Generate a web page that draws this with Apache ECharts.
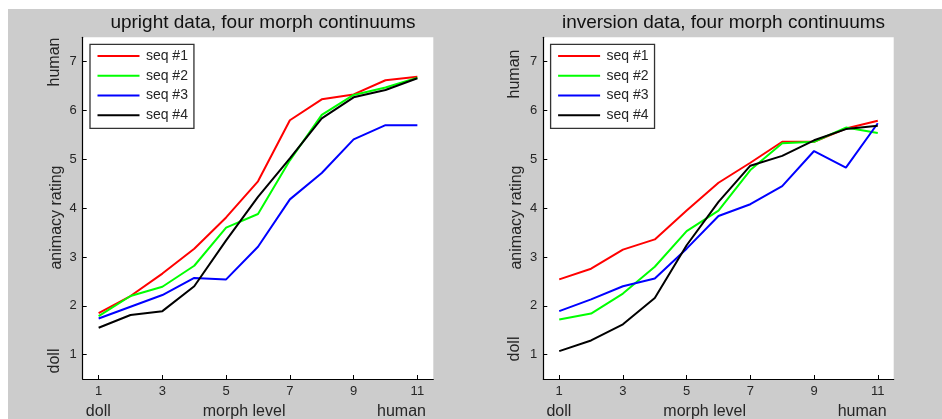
<!DOCTYPE html>
<html>
<head>
<meta charset="utf-8">
<script src="https://cdn.jsdelivr.net/npm/echarts@6/dist/echarts.min.js"></script>
<style>
  html, body { margin: 0; padding: 0; background: #fff; }
  #chart { width: 942px; height: 419px; }
</style>
</head>
<body>
<div id="chart"></div>
<script>
// Morph levels along the doll-to-human continuum
const morphLevels = [1, 2, 3, 4, 5, 6, 7, 8, 9, 10, 11];
const xTicks = [1, 3, 5, 7, 9, 11];
const yTicks = [1, 2, 3, 4, 5, 6, 7];
const seqNames = ['seq #1', 'seq #2', 'seq #3', 'seq #4'];
const seqColors = ['#ff0000', '#00ff00', '#0000ff', '#000000'];

// Mean animacy ratings, upright presentation
const uprightSeq1 = [1.85, 2.20, 2.66, 3.17, 3.81, 4.55, 5.80, 6.23, 6.33, 6.62, 6.69];
const uprightSeq2 = [1.79, 2.20, 2.39, 2.82, 3.60, 3.88, 4.98, 5.91, 6.32, 6.47, 6.67];
const uprightSeq3 = [1.74, 1.98, 2.22, 2.57, 2.54, 3.21, 4.18, 4.72, 5.41, 5.70, 5.70];
const uprightSeq4 = [1.55, 1.81, 1.89, 2.40, 3.34, 4.23, 5.02, 5.84, 6.27, 6.42, 6.66];

// Mean animacy ratings, inverted presentation
const invertedSeq1 = [2.54, 2.76, 3.15, 3.36, 3.95, 4.52, 4.93, 5.36, 5.36, 5.63, 5.79];
const invertedSeq2 = [1.72, 1.84, 2.25, 2.80, 3.53, 3.95, 4.78, 5.33, 5.36, 5.65, 5.54];
const invertedSeq3 = [1.89, 2.13, 2.40, 2.56, 3.17, 3.84, 4.08, 4.45, 5.17, 4.83, 5.74];
const invertedSeq4 = [1.07, 1.29, 1.62, 2.16, 3.24, 4.13, 4.87, 5.07, 5.39, 5.62, 5.69];

const panels = [
  { title: 'upright data, four morph continuums', data: [uprightSeq1, uprightSeq2, uprightSeq3, uprightSeq4] },
  { title: 'inversion data, four morph continuums', data: [invertedSeq1, invertedSeq2, invertedSeq3, invertedSeq4] }
];

const FONT = 'Liberation Sans, Arial, sans-serif';
const INK = '#262626';
const gridBoxes = [
  { left: 82.7, top: 37.3, width: 350.6, height: 341.7 },
  { left: 543.3, top: 37.3, width: 350.4, height: 341.7 }
];

const chart = echarts.init(document.getElementById('chart'), null, { renderer: 'canvas' });

const grids = gridBoxes.map(b => ({
  left: b.left, top: b.top, width: b.width, height: b.height,
  show: true, backgroundColor: '#ffffff', borderWidth: 0
}));

const xAxes = gridBoxes.map((b, i) => ({
  type: 'value', gridIndex: i, min: 0.5, max: 11.5,
  axisLine: { show: true, onZero: false, lineStyle: { color: '#000', width: 1.2 } },
  axisTick: { show: true, inside: true, length: 4, customValues: xTicks, lineStyle: { color: '#000' } },
  axisLabel: { customValues: xTicks, margin: 6, color: INK, fontSize: 13, fontFamily: FONT },
  splitLine: { show: false }
}));

const yAxes = gridBoxes.map((b, i) => ({
  type: 'value', gridIndex: i, min: 0.5, max: 7.5,
  axisLine: { show: true, onZero: false, lineStyle: { color: '#000', width: 1.2 } },
  axisTick: { show: true, inside: true, length: 4, customValues: yTicks, lineStyle: { color: '#000' } },
  axisLabel: { customValues: yTicks, margin: 6, color: INK, fontSize: 13, fontFamily: FONT },
  splitLine: { show: false }
}));

const series = [];
panels.forEach((p, gi) => {
  p.data.forEach((vals, si) => {
    series.push({
      type: 'line', name: seqNames[si], xAxisIndex: gi, yAxisIndex: gi,
      data: morphLevels.map((m, k) => [m, vals[k]]),
      showSymbol: false, symbol: 'none', smooth: false,
      lineStyle: { color: seqColors[si], width: 2 },
      itemStyle: { color: seqColors[si] },
      z: 2 + si
    });
  });
});

const titles = gridBoxes.map((b, i) => ({
  text: panels[i].title,
  left: b.left + b.width / 2, textAlign: 'left', top: 8,
  textStyle: { color: '#111', fontSize: 19, fontWeight: 'normal', fontFamily: FONT }
}));
titles.forEach(t => { t.textAlign = 'center'; });

const legends = gridBoxes.map((b, i) => ({
  orient: 'vertical',
  left: b.left + 7.3, top: 44.3,
  data: seqNames,
  icon: 'rect', itemWidth: 42, itemHeight: 2, itemGap: 5.8,
  padding: [4.6, 6, 6, 7.5],
  backgroundColor: '#ffffff', borderColor: '#333333', borderWidth: 1.3,
  selectedMode: false,
  textStyle: { color: INK, fontSize: 14, lineHeight: 14, fontFamily: FONT, padding: [0, 0, 0, 1.4] }
}));

// Axis annotations drawn as text beside each panel
function label(text, x, y, rotate) {
  return {
    type: 'text', x: x, y: y, rotation: rotate ? Math.PI / 2 : 0, z: 10,
    style: { text: text, fill: INK, font: '16px ' + FONT, textAlign: 'center', textVerticalAlign: 'middle' }
  };
}

const graphics = [
  { type: 'rect', shape: { x: 8, y: 9, width: 934, height: 410 }, style: { fill: '#cccccc' }, z: -100, silent: true }
];
gridBoxes.forEach((b, i) => {
  const yc = [[62, 361], [74, 349]][i];
  graphics.push(label('human', b.left - 28.3, yc[0], true));
  graphics.push(label('animacy rating', b.left - 26.5, 217.5, true));
  graphics.push(label('doll', b.left - 28.3, yc[1], true));
  graphics.push(label('doll', b.left + 15.6, 411.5, false));
  graphics.push(label('morph level', b.left + 161.4, 411.5, false));
  graphics.push(label('human', b.left + 318.8, 411.5, false));
});

chart.setOption({
  backgroundColor: '#ffffff',
  animation: false,
  title: titles,
  legend: legends,
  grid: grids,
  xAxis: xAxes,
  yAxis: yAxes,
  series: series,
  graphic: { elements: graphics }
});
</script>
</body>
</html>
